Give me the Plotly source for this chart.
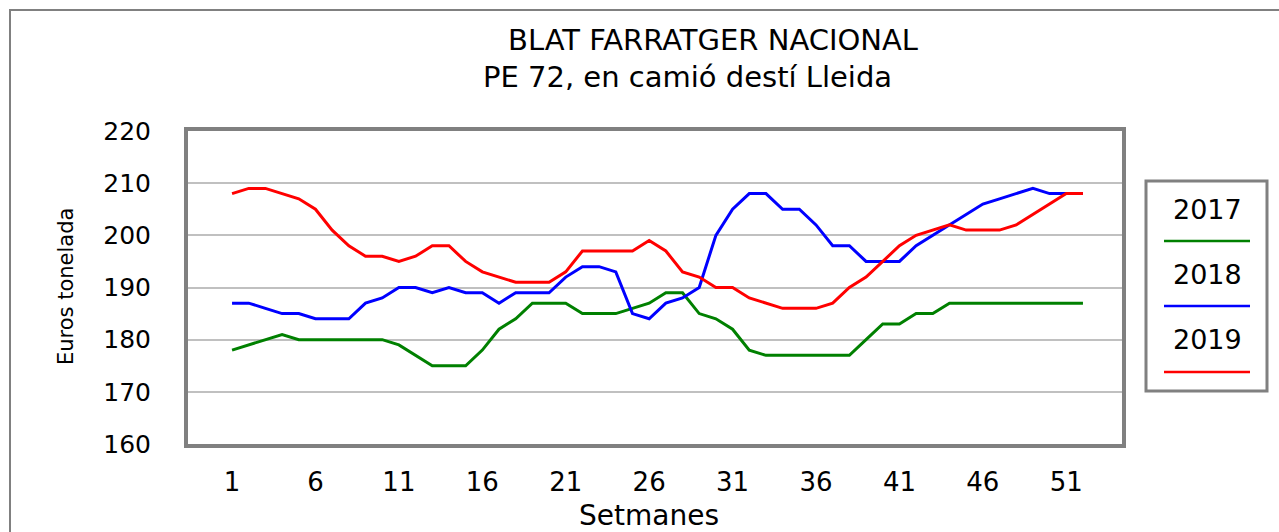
import plotly.graph_objects as go

weeks = list(range(1, 53))

y2017 = [178, 179, 180, 181, 180, 180, 180, 180, 180, 180, 179, 177, 175, 175, 175, 178, 182,
         184, 187, 187, 187, 185, 185, 185, 186, 187, 189, 189, 185, 184, 182, 178, 177, 177, 177,
         177, 177, 177, 180, 183, 183, 185, 185, 187, 187, 187, 187, 187, 187, 187, 187, 187]
y2018 = [187, 187, 186, 185, 185, 184, 184, 184, 187, 188, 190, 190, 189, 190, 189, 189, 187,
         189, 189, 189, 192, 194, 194, 193, 185, 184, 187, 188, 190, 200, 205, 208, 208, 205, 205,
         202, 198, 198, 195, 195, 195, 198, 200, 202, 204, 206, 207, 208, 209, 208, 208, 208]
y2019 = [208, 209, 209, 208, 207, 205, 201, 198, 196, 196, 195, 196, 198, 198, 195, 193, 192,
         191, 191, 191, 193, 197, 197, 197, 197, 199, 197, 193, 192, 190, 190, 188, 187, 186, 186,
         186, 187, 190, 192, 195, 198, 200, 201, 202, 201, 201, 201, 202, 204, 206, 208, 208]

series_names = ["2017", "2018", "2019"]
series_values = [y2017, y2018, y2019]
series_colors = ["#008000", "#0000FF", "#FF0000"]

x_tickvals = [1, 6, 11, 16, 21, 26, 31, 36, 41, 46, 51]
x_ticktext = ["1", "6", "11", "16", "21", "26", "31", "36", "41", "46", "51"]
y_tickvals = [160, 170, 180, 190, 200, 210, 220]

title1 = "BLAT FARRATGER NACIONAL"
title2 = "PE 72, en camió destí Lleida"
x_title = "Setmanes"
y_title = "Euros tonelada"

W, H = 1279, 532
L, R, T, B = 188, 157, 131, 88
PW, PH = W - L - R, H - T - B


def px(x):
    return (x - L) / PW


def py(y):
    return 1 - (y - T) / PH


FONT = "DejaVu Sans"

fig = go.Figure()
for name, vals, col in zip(series_names, series_values, series_colors):
    fig.add_trace(go.Scatter(x=weeks, y=vals, mode="lines", name=name,
                             line=dict(color=col, width=3), showlegend=False))

fig.update_layout(
    width=W, height=H,
    margin=dict(l=L, r=R, t=T, b=B),
    paper_bgcolor="white", plot_bgcolor="white",
    font=dict(family=FONT, color="black"),
    xaxis=dict(range=[-1.64, 54.34], tickvals=x_tickvals, ticktext=x_ticktext,
               showgrid=False, zeroline=False, showline=True, mirror=True,
               linecolor="#808080", linewidth=4, ticks="",
               tickfont=dict(size=26, family=FONT), ticklabelstandoff=12),
    yaxis=dict(range=[160, 220], tickvals=y_tickvals, showgrid=True,
               gridcolor="#C0C0C0", gridwidth=2, zeroline=False,
               showline=True, mirror=True, linecolor="#808080", linewidth=4,
               ticks="", tickfont=dict(size=25, family=FONT), ticklabelstandoff=28),
)

annotations = [
    dict(text=title1, x=px(713), y=py(40), font=dict(size=29)),
    dict(text=title2, x=px(687), y=py(77), font=dict(size=29)),
    dict(text=x_title, x=px(649), y=py(515), font=dict(size=28)),
    dict(text=y_title, x=px(66), y=py(287), font=dict(size=21), textangle=-90),
]
legend_text_y = [209, 274, 339]
legend_line_y = [241, 306, 372]
for name, ty in zip(series_names, legend_text_y):
    annotations.append(dict(text=name, x=px(1207), y=py(ty), font=dict(size=27)))

for a in annotations:
    a.update(xref="paper", yref="paper", showarrow=False, borderpad=0,
             xanchor="center", yanchor="middle")
    a["font"].update(family=FONT, color="black")
fig.update_layout(annotations=annotations)

shapes = [
    dict(type="rect", xref="paper", yref="paper", x0=px(10), x1=px(1300),
         y0=py(10), y1=py(560), line=dict(color="#808080", width=2),
         fillcolor="rgba(0,0,0,0)", layer="below"),
    dict(type="rect", xref="paper", yref="paper", x0=px(1146), x1=px(1267),
         y0=py(181), y1=py(391), line=dict(color="#808080", width=3),
         fillcolor="white"),
]
for col, ly in zip(series_colors, legend_line_y):
    shapes.append(dict(type="line", xref="paper", yref="paper", x0=px(1164), x1=px(1250),
                       y0=py(ly), y1=py(ly), line=dict(color=col, width=2.5)))
fig.update_layout(shapes=shapes)

fig.write_html(
    "out.html",
    config={"displayModeBar": False},
    post_script="document.body.style.margin='0';document.body.style.padding='0';"
                "document.documentElement.style.overflow='hidden';",
)
